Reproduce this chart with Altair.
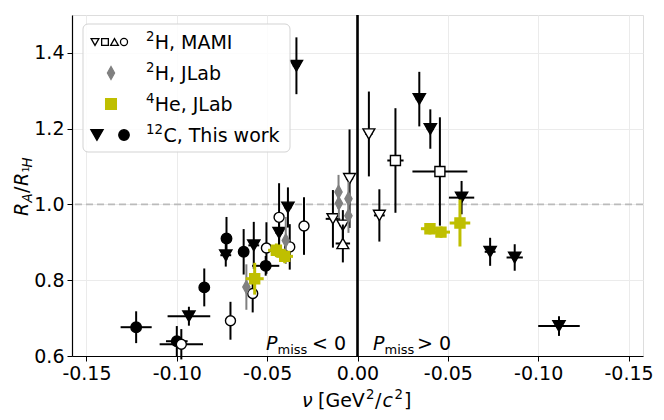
import altair as alt
import pandas as pd

# ---------------- data ----------------
# 2H, MAMI (open markers)
mami_circ_nu = [-0.0975, -0.0703, -0.0580, -0.0504, -0.0434, -0.0375, -0.0296]
mami_circ_r = [0.631, 0.693, 0.765, 0.885, 0.966, 0.888, 0.943]
mami_circ_dnu = [0.012, 0.003, 0.002, 0.002, 0.002, 0.002, 0.002]
mami_circ_dr = [0.040, 0.050, 0.050, 0.068, 0.090, 0.060, 0.076]

mami_tdn_nu = [-0.0136, -0.0081, -0.0044, 0.0063, 0.0121]
mami_tdn_r = [0.962, 0.945, 1.068, 1.186, 0.971]
mami_tdn_dnu = [0.004, 0.002, 0.002, 0.002, 0.003]
mami_tdn_dr = [0.076, 0.040, 0.130, 0.112, 0.069]

mami_tup_nu = [-0.0081]
mami_tup_r = [0.897]
mami_tup_dnu = [0.004]
mami_tup_dr = [0.050]

mami_sq_nu = [0.0210, 0.0456]
mami_sq_r = [1.116, 1.087]
mami_sq_dnu = [0.0045, 0.0152]
mami_sq_dr = [0.138, 0.143]

# 2H, JLab (grey thin diamonds)
jlab2_nu = [-0.0615, -0.0397, -0.0105, -0.0103, -0.0050, -0.0050]
jlab2_r = [0.782, 0.905, 1.033, 1.003, 1.015, 0.970]
jlab2_dnu = [0.0, 0.0, 0.0, 0.0, 0.0, 0.0]
jlab2_dr = [0.060, 0.062, 0.045, 0.040, 0.045, 0.045]

# 4He, JLab (yellow squares)
he4_nu = [-0.0569, -0.0449, -0.0403, 0.0401, 0.0462, 0.0567]
he4_r = [0.804, 0.879, 0.863, 0.936, 0.927, 0.951]
he4_dnu = [0.005, 0.0046, 0.0046, 0.005, 0.005, 0.0057]
he4_dr = [0.042, 0.018, 0.018, 0.015, 0.015, 0.062]

# 12C, this work (filled black)
c12_tri_nu = [-0.0933, -0.0729, -0.0574, -0.0434, -0.0385, -0.0338,
              0.0342, 0.0403, 0.0576, 0.0734, 0.0870, 0.1115]
c12_tri_r = [0.705, 0.866, 0.892, 0.925, 0.992, 1.366,
             1.278, 1.199, 1.018, 0.875, 0.860, 0.679]
c12_tri_dnu = [0.0118, 0.003, 0.003, 0.002, 0.002, 0.002,
               0.002, 0.002, 0.007, 0.003, 0.0045, 0.0115]
c12_tri_dr = [0.025, 0.030, 0.062, 0.040, 0.053, 0.075,
              0.072, 0.052, 0.044, 0.037, 0.035, 0.026]

c12_circ_nu = [-0.1225, -0.1000, -0.0848, -0.0725, -0.0630, -0.0508]
c12_circ_r = [0.676, 0.639, 0.781, 0.910, 0.875, 0.838]
c12_circ_dnu = [0.0086, 0.006, 0.002, 0.002, 0.002, 0.0075]
c12_circ_dr = [0.042, 0.040, 0.050, 0.057, 0.060, 0.026]

x_ticks = [-0.15, -0.10, -0.05, 0.0, 0.05, 0.10, 0.15]
y_ticks = [0.6, 0.8, 1.0, 1.2, 1.4]
x_domain = [-0.158, 0.158]
y_domain = [0.6, 1.5]
legend_sups = ["2", "2", "4", "12"]
legend_labels = ["H, MAMI", "H, JLab", "He, JLab", "C, This work"]

FONT = "DejaVu Sans"
FS = 19
SUB = 13.3

xs = alt.Scale(domain=x_domain, nice=False, zero=False)
ys = alt.Scale(domain=y_domain, nice=False, zero=False)

xaxis = alt.Axis(
    values=x_ticks,
    labelExpr="datum.value == 0 ? '0.00' : '-' + format(abs(datum.value), '.2f')",
    title=None,
    grid=True, gridColor="#ebebeb", gridWidth=1,
    tickColor="black", tickSize=5, tickWidth=1,
    domainColor="black", domainWidth=1.2,
    labelFont=FONT, labelFontSize=FS, labelColor="black", labelPadding=3,
    labelFlush=False, labelOverlap=False,
)
yaxis = alt.Axis(
    values=y_ticks, format=".1f", title=None,
    grid=True, gridColor="#ebebeb", gridWidth=1,
    tickColor="black", tickSize=5, tickWidth=1,
    domainColor="black", domainWidth=1.2,
    labelFont=FONT, labelFontSize=FS, labelColor="black", labelPadding=3,
    labelFlush=False, labelOverlap=False,
)


def X(f):
    return alt.X(f, type="quantitative", scale=xs, axis=xaxis)


def Y(f):
    return alt.Y(f, type="quantitative", scale=ys, axis=yaxis)


def frame(nu, r, dnu, dr):
    df = pd.DataFrame({"nu": nu, "r": r, "dnu": dnu, "dr": dr})
    df["nulo"] = df["nu"] - df["dnu"]
    df["nuhi"] = df["nu"] + df["dnu"]
    df["rlo"] = df["r"] - df["dr"]
    df["rhi"] = df["r"] + df["dr"]
    return df


def series(df, shape, fill, stroke, ecolor, size, ew, xerr=True):
    base = alt.Chart(df)
    layers = [base.mark_rule(color=ecolor, strokeWidth=ew).encode(
        x=X("nu"), y=Y("rlo"), y2="rhi")]
    if xerr:
        layers.append(base.mark_rule(color=ecolor, strokeWidth=ew).encode(
            y=Y("r"), x=X("nulo"), x2="nuhi"))
    layers.append(base.mark_point(shape=shape, fill=fill, stroke=stroke,
                                  strokeWidth=1.4, size=size, opacity=1,
                                  fillOpacity=1).encode(x=X("nu"), y=Y("r")))
    return layers


THIN_DIAMOND = "M0,-1L0.55,0L0,1L-0.55,0Z"
YEL = "#bfbf00"

layers = []
# reference lines
layers.append(alt.Chart(pd.DataFrame({"r": [1.0]})).mark_rule(
    color="#bbbbbb", strokeWidth=1.8, strokeDash=[7, 4]).encode(y=Y("r")))
layers.append(alt.Chart(pd.DataFrame({"nu": [0.0]})).mark_rule(
    color="black", strokeWidth=2.6).encode(x=X("nu")))

layers += series(frame(c12_tri_nu, c12_tri_r, c12_tri_dnu, c12_tri_dr),
                 "triangle-down", "black", "black", "black", 150, 2)
layers += series(frame(c12_circ_nu, c12_circ_r, c12_circ_dnu, c12_circ_dr),
                 "circle", "black", "black", "black", 110, 2)
layers += series(frame(mami_circ_nu, mami_circ_r, mami_circ_dnu, mami_circ_dr),
                 "circle", "white", "black", "black", 100, 2)
layers += series(frame(mami_tdn_nu, mami_tdn_r, mami_tdn_dnu, mami_tdn_dr),
                 "triangle-down", "white", "black", "black", 140, 2)
layers += series(frame(mami_tup_nu, mami_tup_r, mami_tup_dnu, mami_tup_dr),
                 "triangle-up", "white", "black", "black", 140, 2)
layers += series(frame(mami_sq_nu, mami_sq_r, mami_sq_dnu, mami_sq_dr),
                 "square", "white", "black", "black", 100, 2)
layers += series(frame(jlab2_nu, jlab2_r, jlab2_dnu, jlab2_dr),
                 THIN_DIAMOND, "gray", "gray", "gray", 170, 2, xerr=False)
layers += series(frame(he4_nu, he4_r, he4_dnu, he4_dr),
                 "square", YEL, YEL, YEL, 100, 3)

one = pd.DataFrame({"a": [0]})


def txt(s, x, y, size=FS, italic=False, angle=0, align="left", baseline="alphabetic"):
    kw = dict(text=s, font=FONT, fontSize=size, color="black", align=align,
              baseline=baseline, angle=angle)
    if italic:
        kw["fontStyle"] = "italic"
    return alt.Chart(one).mark_text(**kw).encode(x=alt.value(x), y=alt.value(y))


# P_miss annotations
layers += [
    txt("P", 194, 335, italic=True), txt("miss", 205.5, 339, size=13), txt("< 0", 240, 335),
    txt("P", 301, 335, italic=True), txt("miss", 312.5, 339, size=13), txt("> 0", 345, 335),
]

# x-axis title  ν [GeV²/c²]
tb = 392
layers += [
    txt("ν", 230, tb, italic=True),
    txt("[GeV", 246, tb),
    txt("2", 294, tb - 8, size=SUB),
    txt("/", 303, tb),
    txt("c", 310.5, tb, italic=True),
    txt("2", 322.5, tb - 8, size=SUB),
    txt("]", 332, tb),
]

# y-axis title  R_A / R_{1H}  (rotated, composed of pieces)
bx = -44
layers += [
    txt("R", bx, 201, italic=True, angle=270),
    txt("A", bx + 4, 187.5, size=SUB, italic=True, angle=270),
    txt("/", bx, 178, angle=270),
    txt("R", bx, 171, italic=True, angle=270),
    txt("1", bx + 1, 157.5, size=9.5, angle=270),
    txt("H", bx + 4, 152.5, size=SUB, italic=True, angle=270),
]

# legend
layers.append(alt.Chart(one).mark_rect(
    fill="white", fillOpacity=0.85, stroke="#d3d3d3", strokeWidth=1, cornerRadius=5
).encode(x=alt.value(11), x2=alt.value(218), y=alt.value(9), y2=alt.value(137)))


def sym(shape, x, y, fill, stroke, size):
    return alt.Chart(one).mark_point(shape=shape, fill=fill, stroke=stroke, strokeWidth=1.3,
                                     size=size, opacity=1, fillOpacity=1).encode(
        x=alt.value(x), y=alt.value(y))


row_y = [27, 58, 89, 120]
layers += [
    sym("triangle-down", 23, row_y[0], "white", "black", 60),
    sym("square", 33, row_y[0], "white", "black", 45),
    sym("triangle-up", 42.5, row_y[0], "white", "black", 60),
    sym("circle", 52, row_y[0], "white", "black", 50),
    sym(THIN_DIAMOND, 39, row_y[1], "gray", "gray", 170),
    sym("square", 39, row_y[2], YEL, YEL, 115),
    sym("triangle-down", 25, row_y[3], "black", "black", 150),
    sym("circle", 52, row_y[3], "black", "black", 110),
]
for sup, lab, yy in zip(legend_sups, legend_labels, row_y):
    layers.append(txt(sup, 74, yy - 1, size=SUB))
    layers.append(txt(lab, 74 + 8.7 * len(sup), yy + 7))

chart = alt.layer(*layers).properties(
    width=571, height=341,
    padding={"left": 64, "top": 7, "right": 13, "bottom": 58},
    autosize=alt.AutoSizeParams(type="none"),
).configure_view(stroke="#222222", strokeWidth=1.4).configure(background="white")

chart.save("out.html", embed_options={"renderer": "svg", "actions": False})
